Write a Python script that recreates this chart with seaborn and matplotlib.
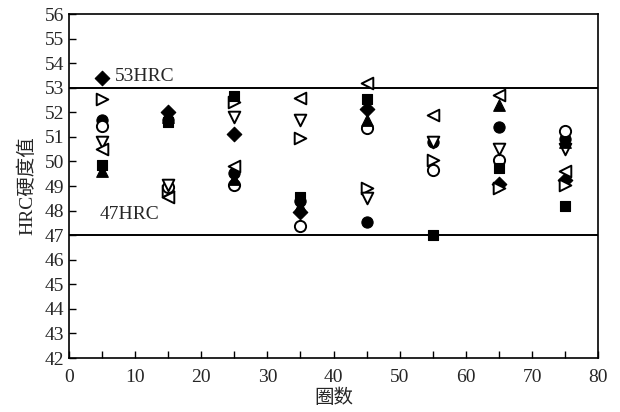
import numpy as np
import pandas as pd
import matplotlib
matplotlib.use("Agg")
import matplotlib.pyplot as plt
import seaborn as sns
from matplotlib.ticker import MultipleLocator

sns.set_theme(style="white")
plt.rcParams['font.family'] = ['Liberation Serif', 'Noto Sans CJK SC', 'DejaVu Sans']

laps = [5, 15, 25, 35, 45, 55, 65, 75]
nan = np.nan
diamond_f   = [53.4, 52.0, 51.1, 47.95, 52.15, nan, 49.1, 49.25]
right_open  = [52.55, 48.8, 52.4, 50.95, 48.9, 50.05, 48.9, 49.05]
circle_f    = [51.7, 51.7, 49.55, 48.4, 47.55, 50.8, 51.4, 50.9]
circle_open = [51.45, 48.95, 49.05, 47.37, 51.35, 49.65, 50.05, 51.25]
down_open   = [50.8, 49.05, 51.8, 51.7, 48.5, 50.8, 50.5, 50.5]
left_open   = [50.5, 48.55, 49.8, 52.6, 53.2, 51.9, 52.7, 49.6]
square_f    = [49.85, 51.6, 52.65, 48.55, 52.55, 47.0, 49.75, 48.2]
up_f        = [49.6, 51.8, 49.3, 48.2, 51.7, nan, 52.3, 50.8]

upper_limit = 53
lower_limit = 47
upper_label = "53HRC"
lower_label = "47HRC"
xlabel = "圈数"
ylabel = "HRC硬度值"

series = [
    (diamond_f, 'D', True, 55),
    (right_open, '>', False, 70),
    (circle_f, 'o', True, 65),
    (circle_open, 'o', False, 65),
    (down_open, 'v', False, 70),
    (left_open, '<', False, 70),
    (square_f, 's', True, 55),
    (up_f, '^', True, 70),
]

fig = plt.figure(figsize=(6.2, 4.12), dpi=100)
ax = fig.add_axes([0.111, 0.131, 0.854, 0.835])

for vals, mk, filled, s in series:
    df = pd.DataFrame({"x": laps, "y": vals}).dropna()
    if filled:
        sns.scatterplot(data=df, x="x", y="y", marker=mk, s=s, color="black",
                        edgecolor="black", linewidth=0.8, ax=ax, zorder=3)
    else:
        sns.scatterplot(data=df, x="x", y="y", marker=mk, s=s, facecolor="white",
                        edgecolor="black", linewidth=1.4, ax=ax, zorder=3)

ax.axhline(upper_limit, color="black", lw=1.4, zorder=2)
ax.axhline(lower_limit, color="black", lw=1.4, zorder=2)
ax.text(6.9, 53.45, upper_label, fontsize=14, va="center", ha="left")
ax.text(4.6, 47.85, lower_label, fontsize=14, va="center", ha="left")

ax.set_xlim(0, 80)
ax.set_ylim(42, 56)
ax.xaxis.set_major_locator(MultipleLocator(10))
ax.xaxis.set_minor_locator(MultipleLocator(5))
ax.yaxis.set_major_locator(MultipleLocator(1))
ax.tick_params(axis='both', which='both', direction='in', length=5, width=1,
               labelsize=14, color='black', bottom=True, left=True, top=False, right=False)
ax.tick_params(axis='x', pad=8)
for sp in ax.spines.values():
    sp.set_color("black")
    sp.set_linewidth(1.2)
ax.set_xlabel(xlabel, fontsize=14, labelpad=2)
ax.set_ylabel(ylabel, fontsize=14, labelpad=6)

fig.savefig("out.png", dpi=100)
